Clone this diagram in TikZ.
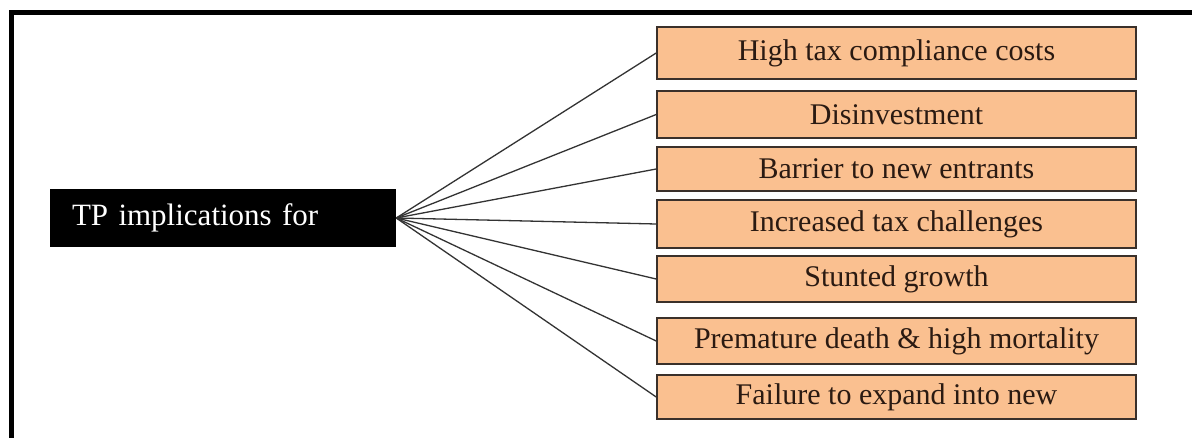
\documentclass[tikz,border=0pt]{standalone}
\usepackage{fontspec}
\setmainfont{Liberation Serif}
\definecolor{peach}{HTML}{FAC090}
\definecolor{edgebrown}{HTML}{3A302A}
\definecolor{txtdark}{HTML}{2A1A12}
\definecolor{linkgray}{HTML}{333333}
\begin{document}
\begin{tikzpicture}[x=1pt,y=-1pt,
  outcome/.style={draw=edgebrown,line width=1.6pt,fill=peach,text=txtdark,
    minimum width=479pt,inner sep=0pt,font=\fontsize{30}{34}\selectfont},
  topic/.style={fill=black,text=white,minimum height=58pt,text width=302pt,
    inner xsep=22pt,inner ysep=0pt,align=left,font=\fontsize{31}{35}\selectfont},
  link/.style={draw=linkgray,line width=1.3pt}]
\useasboundingbox (0,0) rectangle (1192,438);
\fill[white] (0,0) rectangle (1192,438);
% frame (top and left edges)
\draw[line width=5pt] (11,438) -- (11,13) -- (1192,13);
% central node
\node[topic] (src) at (223,218) {TP implications for};
% outcome boxes
\node[outcome,minimum height=52pt] (b1) at (896.5,53) {High tax compliance costs};
\node[outcome,minimum height=47pt] (b2) at (896.5,114.5) {Disinvestment};
\node[outcome,minimum height=44pt] (b3) at (896.5,169) {Barrier to new entrants};
\node[outcome,minimum height=48pt] (b4) at (896.5,224) {Increased tax challenges};
\node[outcome,minimum height=46pt] (b5) at (896.5,279) {Stunted growth};
\node[outcome,minimum height=46pt] (b6) at (896.5,341) {Premature death \& high mortality};
\node[outcome,minimum height=44pt] (b7) at (896.5,397) {Failure to expand into new};
% connectors
\foreach \b in {b1,b2,b3,b4,b5,b6,b7}
  \draw[link] (src.east) -- (\b.west);
\end{tikzpicture}
\end{document}
